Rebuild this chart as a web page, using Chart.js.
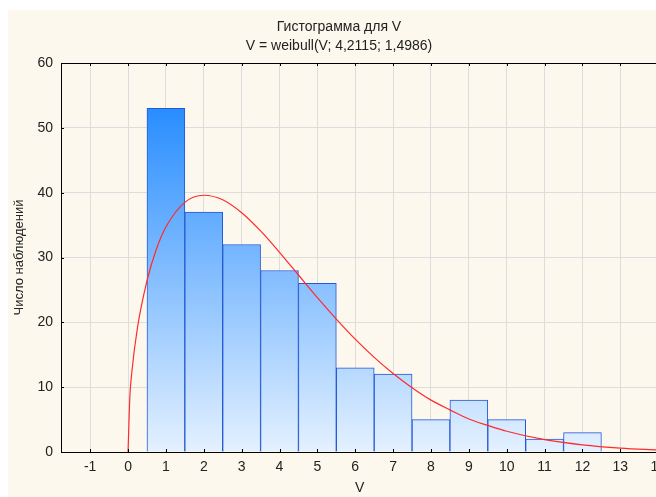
<!DOCTYPE html>
<html>
<head>
<meta charset="utf-8">
<script src="https://cdn.jsdelivr.net/npm/chart.js@4/dist/chart.umd.min.js"></script>
<style>
    html, body { margin: 0; padding: 0; background: #fff; overflow: hidden; }
    body { width: 656px; height: 497px; position: relative; }
    #wrap { position: absolute; left: 8px; top: 10px; width: 665px; height: 487px; background: #fdf8ed; }
</style>
</head>
<body>
<div id="wrap"><canvas id="histChart"></canvas></div>
<script>
// Histogram: bin centres and counts
const binCenters = [1, 2, 3, 4, 5, 6, 7, 8, 9, 10, 11, 12];
const binCounts = [53, 37, 32, 28, 26, 13, 12, 5, 8, 5, 2, 3];

// Fitted weibull curve
const curveX = [0, 0.05, 0.1, 0.25, 0.5, 0.75, 1, 1.5, 2, 2.5, 3, 3.5, 4, 4.5, 5, 5.5, 6, 6.5, 7, 7.5, 8, 8.5, 9, 9.5, 10, 11, 12, 13, 14];
const curveY = [0, 8.7, 12.3, 19.2, 26.4, 31.3, 34.7, 38.5, 39.6, 38.9, 36.9, 34.1, 30.8, 27.3, 23.8, 20.5, 17.4, 14.6, 12.1, 9.9, 8.0, 6.5, 5.1, 4.1, 3.2, 1.9, 1.1, 0.6, 0.3];

const xTicks = [-1, 0, 1, 2, 3, 4, 5, 6, 7, 8, 9, 10, 11, 12, 13, 14];
const yTicks = [0, 10, 20, 30, 40, 50, 60];

const FONT = "'Liberation Sans', Arial, sans-serif";

function barGradient(ctx) {
    const chart = ctx.chart;
    if (!chart.chartArea) return '#6aaeff';
    const y = chart.scales.y;
    const g = chart.ctx.createLinearGradient(0, y.getPixelForValue(60), 0, y.getPixelForValue(0));
    g.addColorStop(0, '#1080ff');
    g.addColorStop(1, '#e4f1ff');
    return g;
}

// top frame line + small inside tick marks
const framePlugin = {
    id: 'frame',
    afterDatasetsDraw(chart) {
        const {ctx, chartArea: a, scales: {x, y}} = chart;
        ctx.save();
        ctx.strokeStyle = '#000';
        ctx.lineWidth = 1;
        ctx.beginPath();
        ctx.moveTo(a.left, a.top + 0.5);
        ctx.lineTo(a.right, a.top + 0.5);
        x.ticks.forEach(t => {
            const px = Math.round(x.getPixelForValue(t.value)) + 0.5;
            ctx.moveTo(px, a.bottom);
            ctx.lineTo(px, a.bottom - 3);
            ctx.moveTo(px, a.top);
            ctx.lineTo(px, a.top + 3);
        });
        y.ticks.forEach(t => {
            const py = Math.round(y.getPixelForValue(t.value)) + 0.5;
            ctx.moveTo(a.left, py);
            ctx.lineTo(a.left + 3, py);
        });
        ctx.stroke();
        ctx.restore();
    }
};

new Chart(document.getElementById('histChart'), {
    type: 'bar',
    data: {
        datasets: [
            {
                type: 'line',
                data: curveX.map((v, i) => ({x: v, y: curveY[i]})),
                borderColor: '#ff2a2a',
                borderWidth: 1.2,
                pointRadius: 0,
                tension: 0.4,
                cubicInterpolationMode: 'monotone',
                order: 0
            },
            {
                data: binCenters.map((v, i) => ({x: v, y: binCounts[i]})),
                backgroundColor: barGradient,
                borderColor: '#2458d6',
                borderWidth: 1,
                barPercentage: 1,
                categoryPercentage: 1,
                order: 1
            }
        ]
    },
    options: {
        responsive: true,
        maintainAspectRatio: false,
        animation: false,
        layout: { padding: { right: 3 } },
        plugins: {
            legend: { display: false },
            tooltip: { enabled: false },
            title: {
                display: true,
                text: ['Гистограмма для V', 'V = weibull(V; 4,2115; 1,4986)'],
                color: '#222',
                font: { family: FONT, size: 14, weight: 'normal', lineHeight: 1.3 },
                padding: { top: 8.4, bottom: 8.2 }
            }
        },
        scales: {
            x: {
                type: 'linear',
                min: -1.77,
                max: 14,
                offset: false,
                afterBuildTicks: s => { s.ticks = xTicks.map(v => ({value: v})); },
                afterFit: s => { s.height = 45; },
                ticks: { padding: 7, color: '#222', font: { family: FONT, size: 14 } },
                grid: { color: '#dddddd', offset: false, drawTicks: false },
                border: { color: '#000', width: 1 },
                title: { display: true, text: 'V', color: '#222', font: { family: FONT, size: 14 }, padding: { top: 0, bottom: 0 } }
            },
            y: {
                min: 0,
                max: 60,
                afterBuildTicks: s => { s.ticks = yTicks.map(v => ({value: v})); },
                afterFit: s => { s.width = 53; },
                ticks: { padding: 8, color: '#222', font: { family: FONT, size: 14 } },
                grid: { color: '#dddddd', drawTicks: false },
                border: { color: '#000', width: 1 },
                title: { display: true, text: 'Число наблюдений', color: '#222', font: { family: FONT, size: 13 }, padding: { top: 4, bottom: 0 } }
            }
        }
    },
    plugins: [framePlugin]
});
</script>
</body>
</html>
